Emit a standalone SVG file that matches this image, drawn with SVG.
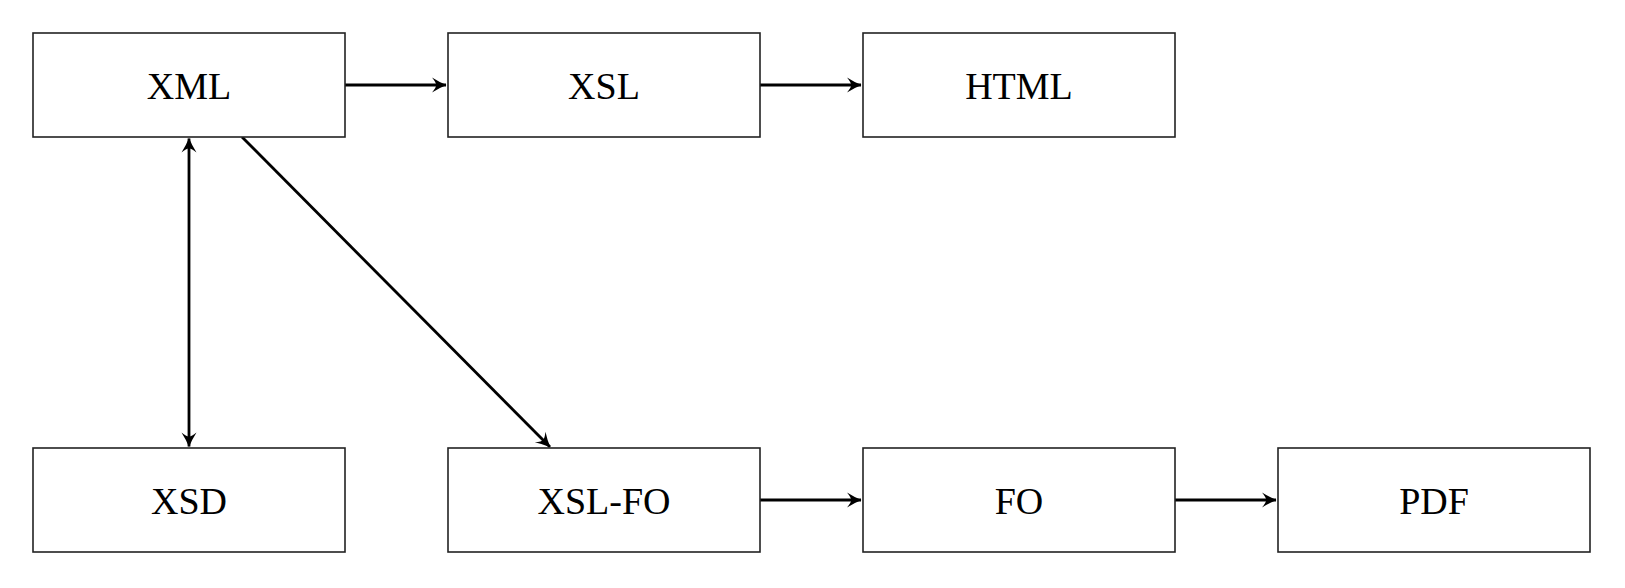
<svg xmlns="http://www.w3.org/2000/svg" width="1625" height="588" viewBox="0 0 1625 588">
<style>
.box{fill:#fff;stroke:#222;stroke-width:1.6}
.lbl{font-family:"Liberation Serif","DejaVu Serif",serif;font-size:38px;fill:#000;text-anchor:middle;dominant-baseline:central}
.edge{stroke:#000;stroke-width:2.8;fill:none}
</style>
<defs>
<marker id="ah" markerUnits="userSpaceOnUse" markerWidth="18" markerHeight="18" viewBox="-15 -9 18 18" refX="0" refY="0" orient="auto-start-reverse">
<path d="M0.5,0 Q-7,-3 -14,-7.5 Q-9.5,-2 -10,0 Q-9.5,2 -14,7.5 Q-7,3 0.5,0 Z" fill="#000"/>
</marker>
</defs>
<rect width="1625" height="588" fill="#fff"/>
<g id="connectors">
<line class="edge" x1="345" y1="85" x2="446" y2="85" marker-end="url(#ah)"/>
<line class="edge" x1="760" y1="85" x2="861" y2="85" marker-end="url(#ah)"/>
<line class="edge" x1="189" y1="138.5" x2="189" y2="446.5" marker-start="url(#ah)" marker-end="url(#ah)"/>
<line class="edge" x1="242" y1="137" x2="550" y2="447" marker-end="url(#ah)"/>
<line class="edge" x1="760" y1="500" x2="861" y2="500" marker-end="url(#ah)"/>
<line class="edge" x1="1175" y1="500" x2="1276" y2="500" marker-end="url(#ah)"/>
</g>
<g id="node-xml"><rect class="box" x="33" y="33" width="312" height="104"/><text class="lbl" x="189" y="86">XML</text></g>
<g id="node-xsl"><rect class="box" x="448" y="33" width="312" height="104"/><text class="lbl" x="604" y="86">XSL</text></g>
<g id="node-html"><rect class="box" x="863" y="33" width="312" height="104"/><text class="lbl" x="1019" y="86">HTML</text></g>
<g id="node-xsd"><rect class="box" x="33" y="448" width="312" height="104"/><text class="lbl" x="189" y="501">XSD</text></g>
<g id="node-xslfo"><rect class="box" x="448" y="448" width="312" height="104"/><text class="lbl" x="604" y="501">XSL-FO</text></g>
<g id="node-fo"><rect class="box" x="863" y="448" width="312" height="104"/><text class="lbl" x="1019" y="501">FO</text></g>
<g id="node-pdf"><rect class="box" x="1278" y="448" width="312" height="104"/><text class="lbl" x="1434" y="501">PDF</text></g>
</svg>
